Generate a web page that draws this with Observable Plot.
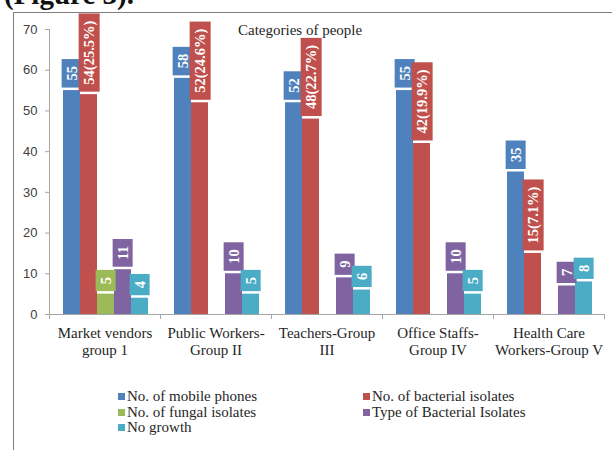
<!DOCTYPE html>
<html><head><meta charset="utf-8">
<script src="https://cdn.jsdelivr.net/npm/d3@7"></script>
<script src="https://cdn.jsdelivr.net/npm/@observablehq/plot@0.6"></script>
<style>
body{margin:0;background:#fff;}
#wrap{position:relative;width:612px;height:450px;overflow:hidden;background:#fff;}
#fig{position:absolute;left:4px;top:-20px;font:bold 29px/29px "Liberation Serif";color:#111;white-space:nowrap;}
#chart{position:absolute;left:0;top:0;}
#frame{position:absolute;left:13px;top:12px;width:640px;height:460px;border-left:1.5px solid #7f7f7f;border-top:1.5px solid #7f7f7f;pointer-events:none;}
#title{position:absolute;left:238px;top:23px;font:15px/15px "Liberation Serif";color:#262626;white-space:nowrap;}
#legend{position:absolute;left:118px;top:389px;display:grid;grid-template-columns:245px auto;font:15px/15.5px "Liberation Serif";color:#262626;}
#legend span.sw{display:inline-block;width:7px;height:7px;margin-right:2px;vertical-align:1px;}
</style>
</head><body>
<div id="wrap">
  <div id="fig">(Figure 3).</div>
  <div id="chart"></div>
  <div id="title">Categories of people</div>
  <div id="legend"></div>
  <div id="frame"></div>
</div>
<script>
const categories = ["Market vendors\ngroup 1","Public Workers-\nGroup II","Teachers-Group\nIII","Office Staffs-\nGroup IV","Health Care\nWorkers-Group V"];
const seriesNames = ["No. of mobile phones","No. of bacterial isolates","No. of fungal isolates","Type of Bacterial Isolates","No growth"];
const mobilePhones = [55,58,52,55,35];
const bacterialIsolates = [54,52,48,42,15];
const bacterialPct = [25.5,24.6,22.7,19.9,7.1];
const fungalIsolates = [5,null,null,null,null];
const bacterialTypes = [11,10,9,10,7];
const noGrowth = [4,5,6,5,8];
const yTicks = [0,10,20,30,40,50,60,70];
const colors = ["#4F81BD","#C0504D","#9BBB59","#8064A2","#4BACC6"];

const seriesValues = [mobilePhones, bacterialIsolates, fungalIsolates, bacterialTypes, noGrowth];
const rows = [];
categories.forEach((c, g) => {
  seriesValues.forEach((vals, s) => {
    const v = vals[g];
    if (v == null) return;
    const label = s === 1 ? `${v}(${bacterialPct[g]}%)` : String(v);
    rows.push({g, s, value: v, label});
  });
});

// layout within each category band (fractions of the band)
const PAD = 14 / 111, W = 17 / 111;
const x1 = d => d.g + PAD + d.s * W;
const x2 = d => d.g + PAD + (d.s + 1) * W;
const xc = d => d.g + PAD + (d.s + 0.5) * W;
const axisGray = "#a6a6a6";

const plot = Plot.plot({
  width: 612, height: 370,
  marginLeft: 49, marginRight: 8, marginTop: 29, marginBottom: 56,
  x: {type: "linear", domain: [0, 5], axis: null},
  y: {domain: [0, 70], axis: null},
  color: {type: "identity"},
  style: {background: "transparent", overflow: "visible"},
  marks: [
    Plot.ruleX([0], {stroke: axisGray}),
    Plot.ruleY(yTicks, {y: d => d, x1: 0, x2: 0, insetLeft: -4, stroke: axisGray}),
    Plot.text(yTicks, {y: d => d, x: 0, dx: -12, textAnchor: "end", text: d => String(d), fontFamily: "Liberation Sans", fontSize: 13, fill: "#404040"}),
    Plot.rect(rows, {x1, x2, y1: 0, y2: "value", fill: d => colors[d.s]}),
    Plot.ruleY([0], {stroke: axisGray}),
    Plot.ruleX(d3.range(categories.length + 1), {x: d => d, y1: 0, y2: 0, insetBottom: -5, stroke: axisGray}),
    Plot.text(categories, {x: (d, i) => i + 0.5, y: 0, text: d => d, lineAnchor: "top", dy: 12, fontFamily: "Liberation Serif", fontSize: 15, lineHeight: 1.12, fill: "#262626"}),
    Plot.text(rows, {x: xc, y: "value", text: "label", rotate: -90, textAnchor: "start", dy: -10, fill: "white", fontWeight: "bold", fontFamily: "Liberation Serif", fontSize: 14.5})
  ]
});
document.getElementById("chart").appendChild(plot);

// label boxes behind each value label, sized from the rendered text
const svgNS = "http://www.w3.org/2000/svg";
const labelTexts = Array.from(plot.querySelectorAll("text")).filter(t => /rotate/.test(t.getAttribute("transform") || ""));
labelTexts.forEach((t, k) => {
  const idx = (typeof t.__data__ === "number") ? t.__data__ : k;
  const bb = t.getBBox();
  const r = document.createElementNS(svgNS, "rect");
  const padL = 7, padA = 2;
  r.setAttribute("x", bb.x - padL);
  r.setAttribute("y", bb.y - padA);
  r.setAttribute("width", bb.width + 2 * padL);
  r.setAttribute("height", bb.height + 2 * padA);
  r.setAttribute("transform", t.getAttribute("transform"));
  r.setAttribute("fill", colors[rows[idx].s]);
  t.parentNode.insertBefore(r, t);
});

const legend = document.getElementById("legend");
seriesNames.forEach((name, i) => {
  const div = document.createElement("div");
  div.innerHTML = `<span class="sw" style="background:${colors[i]}"></span>${name}`;
  legend.appendChild(div);
});
</script>
</body></html>
